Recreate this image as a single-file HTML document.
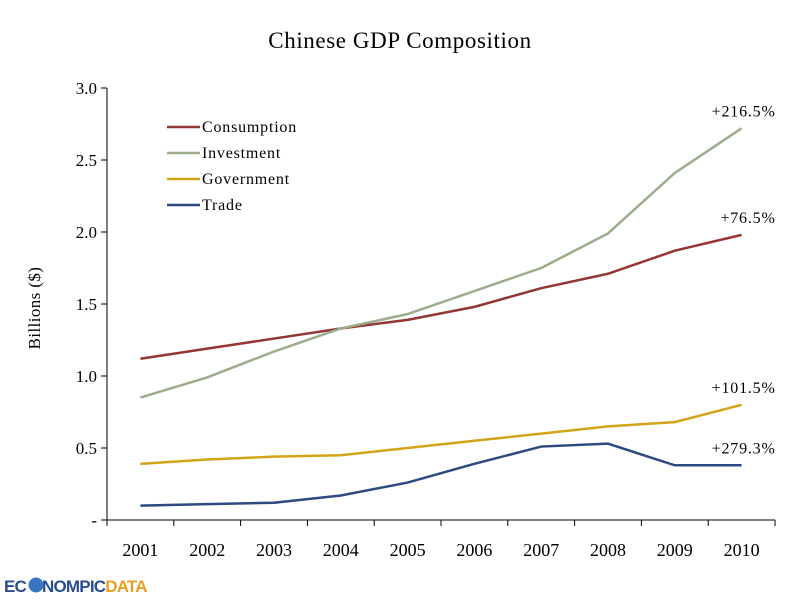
<!DOCTYPE html>
<html><head><meta charset="utf-8"><style>
body{margin:0;background:#fff;}
svg text{font-family:"Liberation Serif",serif;fill:#000;}
</style></head><body>
<svg id="chart" width="800" height="600">
<text x="400" y="48" font-size="23" letter-spacing="0.6" text-anchor="middle">Chinese GDP Composition</text>
<text transform="translate(40,308) rotate(-90)" font-size="17" letter-spacing="0.4" text-anchor="middle">Billions ($)</text>
<g id="axes"></g><g id="series"></g><g id="legend"></g>
<g>
<text x="4" y="592" font-size="17" font-weight="bold" style="font-family:'Liberation Sans',sans-serif" letter-spacing="-0.8"><tspan style="fill:#2a4d8f">EC</tspan><tspan style="fill:#2a4d8f" dx="16">NOMPIC</tspan><tspan style="fill:#e8a020">DATA</tspan></text>
<circle cx="36" cy="585" r="7.5" fill="#3a76c0"/>
</g>
</svg>
<script>
const years=["2001","2002","2003","2004","2005","2006","2007","2008","2009","2010"];
const consumption=[1.12,1.19,1.26,1.33,1.39,1.48,1.61,1.71,1.87,1.98];
const investment=[0.85,0.99,1.17,1.33,1.43,1.59,1.75,1.99,2.41,2.72];
const government=[0.39,0.42,0.44,0.45,0.50,0.55,0.60,0.65,0.68,0.80];
const trade=[0.10,0.11,0.12,0.17,0.26,0.39,0.51,0.53,0.38,0.38];
const yTicks=[0,0.5,1.0,1.5,2.0,2.5,3.0];
const yTickLabels=["-","0.5","1.0","1.5","2.0","2.5","3.0"];
const changeLabels=["+76.5%","+216.5%","+101.5%","+279.3%"];
const seriesNames=["Consumption","Investment","Government","Trade"];
const NS="http://www.w3.org/2000/svg";
const x0=107,bw=66.8,yb=520,ppu=144;
const X=i=>x0+bw*(i+0.5), Y=v=>yb-v*ppu;
function mk(tag,attrs,parent,txt){const e=document.createElementNS(NS,tag);for(const k in attrs)e.setAttribute(k,attrs[k]);if(txt!=null)e.textContent=txt;parent.appendChild(e);return e;}
const axes=document.getElementById('axes');
let a=mk('line',{x1:x0,y1:Y(3),x2:x0,y2:yb,stroke:'#000','stroke-width':1},axes);


a=mk('line',{x1:x0,y1:yb,x2:x0+bw*10,y2:yb,stroke:'#000','stroke-width':1},axes);


yTicks.forEach((v,i)=>{
 mk('line',{x1:x0-6,y1:Y(v),x2:x0,y2:Y(v),stroke:'#000'},axes);
 const t=mk('text',{x:x0-10,y:Y(v)+6,'font-size':17,'text-anchor':'end'},axes,yTickLabels[i]);
 
 
});
for(let i=0;i<=10;i++) mk('line',{x1:x0+bw*i,y1:yb,x2:x0+bw*i,y2:yb+6,stroke:'#000'},axes);
years.forEach((y,i)=>{
 const t=mk('text',{x:X(i),y:556,'font-size':18,'text-anchor':'middle'},axes,y);
 
 
});
const colors=["#943634","#9bad8c","#d4a418","#2c4a80"];
const data=[consumption,investment,government,trade];
const sg=document.getElementById('series'), lg=document.getElementById('legend');
data.forEach((d,s)=>{
 const p=mk('polyline',{points:d.map((v,i)=>X(i)+','+Y(v)).join(' '),fill:'none',stroke:colors[s],'stroke-width':2.5},sg);
 
 
 const t=mk('text',{x:X(9)+34,y:Y(d[9])-12,'font-size':16,'letter-spacing':0.8,'text-anchor':'end'},sg,changeLabels[s]);
 
 
 const ly=127+s*26;
 mk('line',{x1:167,y1:ly,x2:200,y2:ly,stroke:colors[s],'stroke-width':2.5},lg);
 const lt=mk('text',{x:202,y:ly+5,'font-size':16,'letter-spacing':0.8},lg,seriesNames[s]);
 
 
});
</script>
</body></html>
